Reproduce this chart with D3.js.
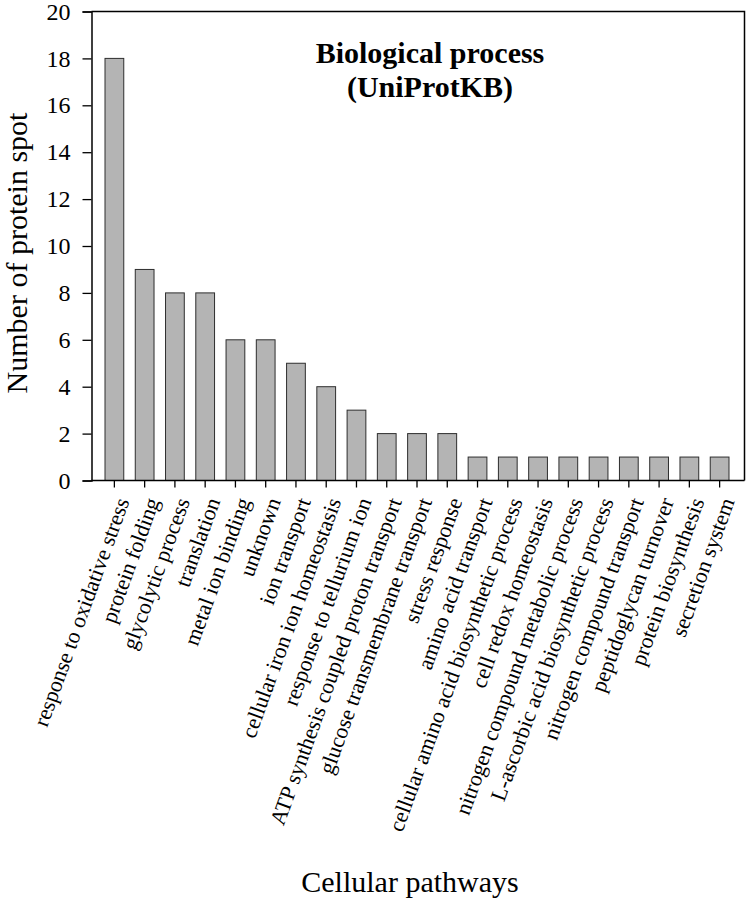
<!DOCTYPE html>
<html lang="en">
<head>
    <meta charset="UTF-8">
    <title>Biological process (UniProtKB)</title>
    <script src="https://d3js.org/d3.v7.min.js"></script>
    <style>
        body { margin: 0; background: #fff; }
        text { font-family: "Liberation Serif", "Times New Roman", serif; fill: #000; }
    </style>
</head>
<body>
    <svg id="chart" width="747" height="901"></svg>
    <script>
        // categories and counts
        const pathways = [
            "response to oxidative stress", "protein folding", "glycolytic process",
            "translation", "metal ion binding", "unknown", "ion transport",
            "cellular iron ion homeostasis", "response to tellurium ion",
            "ATP synthesis coupled proton transport", "glucose transmembrane transport",
            "stress response", "amino acid transport", "cellular amino acid biosynthetic process",
            "cell redox homeostasis", "nitrogen compound metabolic process",
            "L-ascorbic acid biosynthetic process", "nitrogen compound transport",
            "peptidoglycan turnover", "protein biosynthesis", "secretion system"
        ];
        const spots = [18, 9, 8, 8, 6, 6, 5, 4, 3, 2, 2, 2, 1, 1, 1, 1, 1, 1, 1, 1, 1];
        const yTicks = [0, 2, 4, 6, 8, 10, 12, 14, 16, 18, 20];

        const svg = d3.select("#chart");
        const plot = { left: 91.5, right: 744.5, top: 11.5, bottom: 480.5 };

        const x = d3.scaleBand().domain(pathways).range([105, 729]).paddingInner(0.38).paddingOuter(0);
        const y = d3.scaleLinear().domain([0, 20]).range([plot.bottom, plot.top]);

        // bars
        svg.append("g").selectAll("rect").data(spots).enter().append("rect")
            .attr("x", (d, i) => x(pathways[i]))
            .attr("y", d => y(d))
            .attr("width", x.bandwidth())
            .attr("height", d => plot.bottom - y(d))
            .attr("fill", "#b4b4b4")
            .attr("stroke", "#2e2e2e")
            .attr("stroke-width", 1);

        // frame (top + right)
        svg.append("path")
            .attr("d", `M${plot.left},${plot.top}H${plot.right}V${plot.bottom}`)
            .attr("fill", "none").attr("stroke", "#000").attr("stroke-width", 1.5);

        // y axis
        const yAxis = svg.append("g").attr("transform", `translate(${plot.left},0)`)
            .call(d3.axisLeft(y).tickValues(yTicks).tickSize(9).tickPadding(12))
            .attr("font-family", "'Liberation Serif', serif")
            .attr("font-size", 24);
        yAxis.select(".domain").attr("stroke-width", 1.5);
        yAxis.selectAll(".tick line").attr("stroke-width", 1.3);
        yAxis.selectAll("text").attr("fill", "#000");

        // x axis
        const xAxis = svg.append("g").attr("transform", `translate(0,${plot.bottom})`)
            .call(d3.axisBottom(x).tickSize(7).tickSizeOuter(0).tickFormat(""));
        xAxis.select(".domain").attr("d", `M${plot.left},0H${plot.right}`).attr("stroke-width", 1.5);
        xAxis.selectAll(".tick line").attr("stroke-width", 1.3);

        // rotated category labels
        svg.append("g").selectAll("text").data(pathways).enter().append("text")
            .attr("transform", d => `translate(${x(d) + x.bandwidth() / 2 + 8},${plot.bottom + 18}) rotate(-70)`)
            .attr("text-anchor", "end")
            .attr("dy", "0.35em")
            .style("font-size", "22px")
            .text(d => d);

        // titles
        svg.append("text").attr("x", 430).attr("y", 63).attr("text-anchor", "middle")
            .style("font-size", "30px").style("font-weight", "bold").text("Biological process");
        svg.append("text").attr("x", 430).attr("y", 97).attr("text-anchor", "middle")
            .style("font-size", "30px").style("font-weight", "bold").text("(UniProtKB)");

        svg.append("text").attr("transform", "translate(27,253) rotate(-90)")
            .attr("text-anchor", "middle")
            .style("font-size", "30px").text("Number of protein spot");

        svg.append("text").attr("x", 410).attr("y", 892).attr("text-anchor", "middle")
            .style("font-size", "30px").text("Cellular pathways");
    </script>
</body>
</html>
